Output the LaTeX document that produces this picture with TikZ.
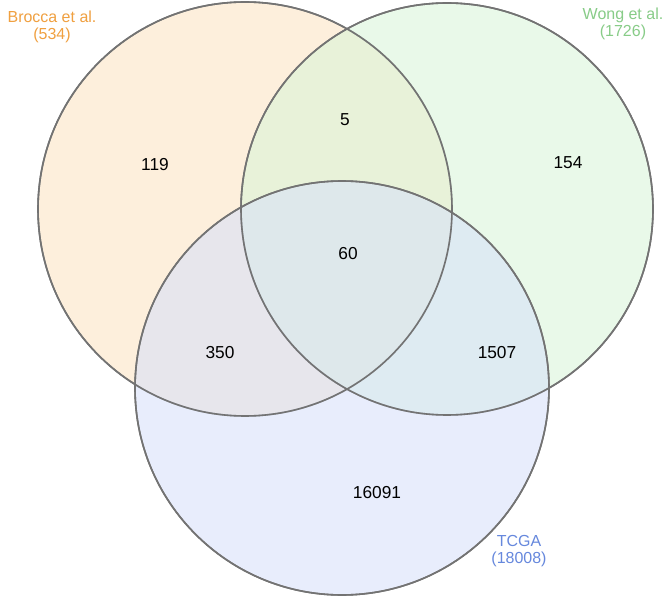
\documentclass[tikz,border=0pt]{standalone}
\usepackage{fontspec}
\setmainfont{Liberation Sans}
\definecolor{brocca}{HTML}{FDE3C0}
\definecolor{wong}{HTML}{D8F5D8}
\definecolor{tcga}{HTML}{D6E0FA}
\definecolor{broccatext}{HTML}{F0A040}
\definecolor{wongtext}{HTML}{88CC88}
\definecolor{tcgatext}{HTML}{6688DD}
\tikzset{
  setcircle/.style={draw=black!55, line width=1.2pt, fill opacity=0.55},
  count/.style={font=\fontsize{13}{15}\selectfont},
  setlabel/.style={font=\fontsize{12}{13}\selectfont, align=center}
}
\begin{document}
\begin{tikzpicture}[x=0.0264cm, y=-0.0264cm]
\useasboundingbox (0,0) rectangle (669,597);
\fill[white] (0,0) rectangle (669,597);
\path[setcircle, fill=brocca] (245,209) circle [radius=207];
\path[setcircle, fill=wong] (447,209) circle [radius=206];
\path[setcircle, fill=tcga] (342,388) circle [radius=207];
\draw[black!55, line width=1.2pt] (245,209) circle [radius=207];
\draw[black!55, line width=1.2pt] (447,209) circle [radius=206];
\draw[black!55, line width=1.2pt] (342,388) circle [radius=207];

\node (a) [count] at (155,165) {119};
\node (ab) [count] at (345,120) {5};
\node (b) [count] at (568,163) {154};
\node (abc) [count] at (348,254) {60};
\node (ac) [count] at (220,353) {350};
\node (bc) [count] at (497,353) {1507};
\node (c) [count] at (377,493) {16091};

\node (brocca) [setlabel, text=broccatext] at (52,27) {Brocca et al.\\(534)};
\node (wong) [setlabel, text=wongtext] at (623,24) {Wong et al.\\(1726)};
\node (tcga) [setlabel, text=tcgatext] at (519,551) {TCGA\\(18008)};
\end{tikzpicture}
\end{document}
